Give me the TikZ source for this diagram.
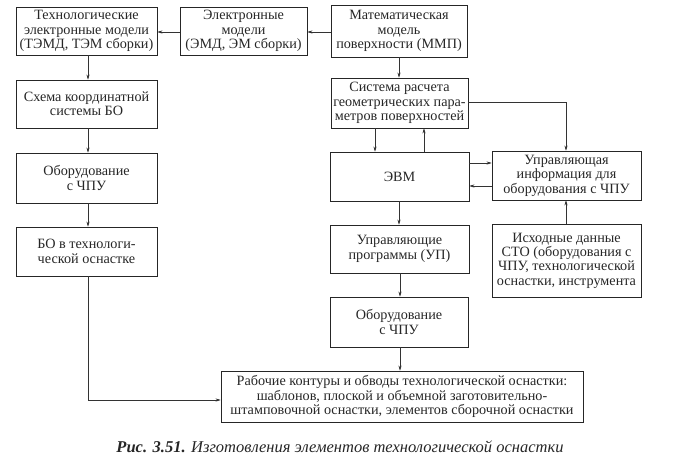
\documentclass[tikz,border=0pt]{standalone}
\usepackage{fontspec}
\setmainfont{Liberation Serif}
\usetikzlibrary{arrows.meta}
\begin{document}
\begin{tikzpicture}[x=1pt,y=-1pt,
  box/.style={draw=black!85, line width=0.8pt, align=center, inner sep=0pt,
    font=\fontsize{14.2}{14.4}\selectfont, text=black!85},
  conn/.style={draw=black!80, line width=0.6pt, -{Stealth[length=5pt,width=3.2pt]}},
  line/.style={draw=black!80, line width=0.6pt}]
\useasboundingbox (0,0) rectangle (681,469);
% boxes
\node[box, minimum width=141pt, minimum height=48pt] (tem) at (86.5,31) {Технологические\\электронные модели\\(ТЭМД, ТЭМ сборки)};
\node[box, minimum width=127pt, minimum height=48pt] (em) at (243.5,31) {Электронные\\модели\\(ЭМД, ЭМ сборки)};
\node[box, minimum width=136pt, minimum height=52pt] (mmp) at (399,31) {Математическая\\модель\\поверхности (ММП)};
\node[box, minimum width=141pt, minimum height=48pt] (shema) at (86.5,104) {Схема координатной\\системы БО};
\node[box, minimum width=137pt, minimum height=50pt] (sist) at (399.5,103) {Система расчета\\геометрических пара-\\метров поверхностей};
\node[box, minimum width=141pt, minimum height=50pt] (obL) at (86.5,178) {Оборудование\\с ЧПУ};
\node[box, minimum width=139pt, minimum height=49pt] (evm) at (399.5,176.5) {ЭВМ};
\node[box, minimum width=149pt, minimum height=49pt] (upri) at (566.5,175.5) {Управляющая\\информация для\\оборудования с ЧПУ};
\node[box, minimum width=141pt, minimum height=49pt] (bo) at (86.5,251.5) {БО в технологи-\\ческой оснастке};
\node[box, minimum width=139pt, minimum height=48pt] (up) at (399.5,249) {Управляющие\\программы (УП)};
\node[box, minimum width=149pt, minimum height=73pt] (isx) at (566.5,260.5) {Исходные данные\\СТО (оборудования с\\ЧПУ, технологической\\оснастки, инструмента};
\node[box, minimum width=138pt, minimum height=50pt] (obR) at (399,322) {Оборудование\\с ЧПУ};
\node[box, minimum width=362pt, minimum height=51pt] (rab) at (402,396.5) {Рабочие контуры и обводы технологической оснастки:\\шаблонов, плоской и объемной заготовительно-\\штамповочной оснастки, элементов сборочной оснастки};
% caption
\node[font=\fontsize{16.5}{18}\selectfont\itshape, text=black!85] (cap) at (340,447) {\textbf{Рис. 3.51.} Изготовления элементов технологической оснастки};
% connectors
\draw[conn] (em.west |- 0,32) -- (tem.east |- 0,32);
\draw[conn] (mmp.west |- 0,32) -- (em.east |- 0,32);
\draw[conn] (tem.south -| 88,0) -- (shema.north -| 88,0);
\draw[conn] (shema.south -| 88,0) -- (obL.north -| 88,0);
\draw[conn] (obL.south -| 88,0) -- (bo.north -| 88,0);
\coordinate (bend) at (88,400);
\draw[conn] (bo.south -| 88,0) -- (bend) -- (rab.west |- bend);
\draw[conn] (mmp.south -| 399,0) -- (sist.north -| 399,0);
\draw[conn] (sist.south -| 375,0) -- (evm.north -| 375,0);
\draw[conn] (evm.north -| 424,0) -- (sist.south -| 424,0);
\coordinate (corner) at (566,102);
\draw[conn] (sist.east |- corner) -- (corner) -- (upri.north -| corner);
\draw[conn] (evm.east |- 0,163) -- (upri.west |- 0,163);
\draw[conn] (upri.west |- 0,186) -- (evm.east |- 0,186);
\draw[conn] (isx.north -| 566,0) -- (upri.south -| 566,0);
\draw[conn] (evm.south -| 399,0) -- (up.north -| 399,0);
\draw[conn] (up.south -| 400,0) -- (obR.north -| 400,0);
\draw[conn] (obR.south -| 400,0) -- (rab.north -| 400,0);
\end{tikzpicture}
\end{document}
